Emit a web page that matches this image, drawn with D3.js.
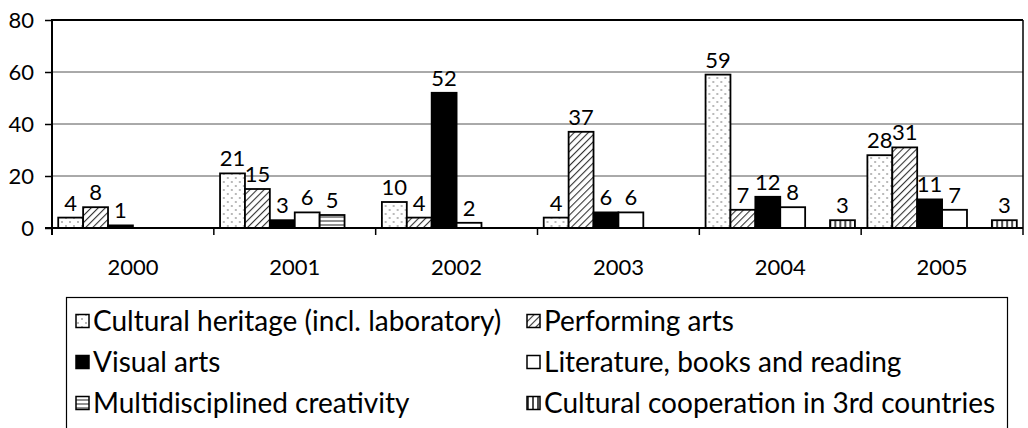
<!DOCTYPE html>
<html>
<head>
<meta charset="utf-8">
<script src="https://cdn.jsdelivr.net/npm/d3@7"></script>
<style>
  body { margin: 0; background: #fff; }
  svg text { font-family: Lato, "Open Sans", sans-serif; fill: #000; }
</style>
</head>
<body>
<svg width="1028" height="428"></svg>
<script>
var years = ["2000", "2001", "2002", "2003", "2004", "2005"];
var seriesNames = [
	"Cultural heritage (incl. laboratory)",
	"Performing arts",
	"Visual arts",
	"Literature, books and reading",
	"Multidisciplined creativity",
	"Cultural cooperation in 3rd countries"
];
var heritage = [4, 21, 10, 4, 59, 28];
var performing = [8, 15, 4, 37, 7, 31];
var visual = [1, 3, 52, 6, 12, 11];
var literature = [0, 6, 2, 6, 8, 7];
var multi = [0, 5, 0, 0, 0, 0];
var cooperation = [0, 0, 0, 0, 3, 3];
var yTicks = [0, 20, 40, 60, 80];

var seriesValues = [heritage, performing, visual, literature, multi, cooperation];
var fills = ["url(#dots)", "url(#hatch)", "#000", "#fff", "url(#hstripe)", "url(#vstripe)"];

var svg = d3.select("svg");
var margin = {left: 52, right: 5, top: 20, bottom: 200};
var width = 1028 - margin.left - margin.right;
var height = 428 - margin.top - margin.bottom;

// patterns
var defs = svg.append("defs");

var dots = defs.append("pattern").attr("id", "dots")
	.attr("patternUnits", "userSpaceOnUse").attr("width", 8).attr("height", 8);
dots.append("rect").attr("width", 8).attr("height", 8).attr("fill", "#fff");
dots.append("circle").attr("cx", 2).attr("cy", 2).attr("r", 0.9).attr("fill", "#999");
dots.append("circle").attr("cx", 6).attr("cy", 6).attr("r", 0.9).attr("fill", "#999");

var hatch = defs.append("pattern").attr("id", "hatch")
	.attr("patternUnits", "userSpaceOnUse").attr("width", 5).attr("height", 5)
	.attr("patternTransform", "rotate(45)");
hatch.append("rect").attr("width", 5).attr("height", 5).attr("fill", "#fff");
hatch.append("line").attr("x1", 0).attr("y1", 0).attr("x2", 0).attr("y2", 5)
	.attr("stroke", "#333").attr("stroke-width", 2.2);

var hstripe = defs.append("pattern").attr("id", "hstripe")
	.attr("patternUnits", "userSpaceOnUse").attr("width", 6).attr("height", 4);
hstripe.append("rect").attr("width", 6).attr("height", 4).attr("fill", "#fff");
hstripe.append("line").attr("x1", 0).attr("y1", 1).attr("x2", 6).attr("y2", 1)
	.attr("stroke", "#555").attr("stroke-width", 1.3);

var vstripe = defs.append("pattern").attr("id", "vstripe")
	.attr("patternUnits", "userSpaceOnUse").attr("width", 5).attr("height", 6);
vstripe.append("rect").attr("width", 5).attr("height", 6).attr("fill", "#fff");
vstripe.append("line").attr("x1", 1).attr("y1", 0).attr("x2", 1).attr("y2", 6)
	.attr("stroke", "#111").attr("stroke-width", 1.5);

var g = svg.append("g").attr("transform", "translate(" + margin.left + "," + margin.top + ")");

// excel style: gap width 50% of a bar
var x0 = d3.scaleBand().domain(years).range([0, width]);
var bw = x0.bandwidth();
var x1 = d3.scaleBand().domain(d3.range(seriesNames.length))
	.range([bw / 26, bw - bw / 26]);
var y = d3.scaleLinear().domain([0, 80]).range([height, 0]);

// gridlines
g.selectAll(".grid").data([20, 40, 60]).enter().append("line")
	.attr("x1", 0).attr("x2", width)
	.attr("y1", function (d) { return y(d); }).attr("y2", function (d) { return y(d); })
	.attr("stroke", "#555").attr("stroke-width", 1);

// plot border top + right
g.append("line").attr("x1", 0).attr("x2", width).attr("y1", y(80)).attr("y2", y(80))
	.attr("stroke", "#000").attr("stroke-width", 2);
g.append("line").attr("x1", width).attr("x2", width).attr("y1", y(80)).attr("y2", height)
	.attr("stroke", "#000").attr("stroke-width", 1.5);

// bars
var groups = g.selectAll(".year").data(years).enter().append("g")
	.attr("transform", function (d) { return "translate(" + x0(d) + ",0)"; });

var cells = groups.selectAll(".cell")
	.data(function (d, i) {
		return seriesValues.map(function (s, k) { return {k: k, v: s[i]}; })
			.filter(function (c) { return c.v > 0; });
	})
	.enter();

cells.append("rect")
	.attr("x", function (d) { return x1(d.k); })
	.attr("y", function (d) { return y(d.v); })
	.attr("width", x1.bandwidth())
	.attr("height", function (d) { return height - y(d.v); })
	.attr("fill", function (d) { return fills[d.k]; })
	.attr("stroke", "#000").attr("stroke-width", 1.8);

cells.append("text")
	.attr("x", function (d) { return x1(d.k) + x1.bandwidth() / 2; })
	.attr("y", function (d) { return y(d.v) - 7; })
	.attr("text-anchor", "middle")
	.style("font-size", "22px")
	.text(function (d) { return d.v; });

// y axis
var yAxis = g.append("g").call(d3.axisLeft(y).tickValues(yTicks).tickSize(7).tickPadding(11));
yAxis.select(".domain").remove();
yAxis.selectAll(".tick line").attr("stroke", "#000").attr("stroke-width", 1.5);
yAxis.selectAll("text").style("font-size", "22px").attr("font-family", null);
g.append("line").attr("x1", 0).attr("x2", 0).attr("y1", y(80) - 1).attr("y2", height + 7)
	.attr("stroke", "#000").attr("stroke-width", 2);

// x axis
g.append("line").attr("x1", -7).attr("x2", width).attr("y1", height).attr("y2", height)
	.attr("stroke", "#000").attr("stroke-width", 2);
g.selectAll(".xtick").data(d3.range(years.length + 1)).enter().append("line")
	.attr("x1", function (d) { return d * bw; }).attr("x2", function (d) { return d * bw; })
	.attr("y1", height).attr("y2", height + 7)
	.attr("stroke", "#000").attr("stroke-width", 1.5);
g.selectAll(".xlab").data(years).enter().append("text")
	.attr("x", function (d) { return x0(d) + bw / 2; })
	.attr("y", height + 47)
	.attr("text-anchor", "middle")
	.style("font-size", "22px")
	.text(function (d) { return d; });

// legend
var legend = svg.append("g");
legend.append("rect").attr("x", 66.5).attr("y", 297.5).attr("width", 941).attr("height", 160)
	.attr("fill", "#fff").attr("stroke", "#000").attr("stroke-width", 1.2);

var colX = [76, 527];
var rowY = [321, 362, 403];
var items = legend.selectAll(".item").data(seriesNames).enter().append("g")
	.attr("transform", function (d, i) {
		return "translate(" + colX[i % 2] + "," + rowY[Math.floor(i / 2)] + ")";
	});
items.append("rect").attr("x", 0).attr("y", -6.5).attr("width", 13).attr("height", 13)
	.attr("fill", function (d, i) { return fills[i]; })
	.attr("stroke", "#000").attr("stroke-width", 1.5);
items.append("text").attr("x", 17).attr("y", 10)
	.style("font-size", "28px")
	.text(function (d) { return d; });
</script>
</body>
</html>
